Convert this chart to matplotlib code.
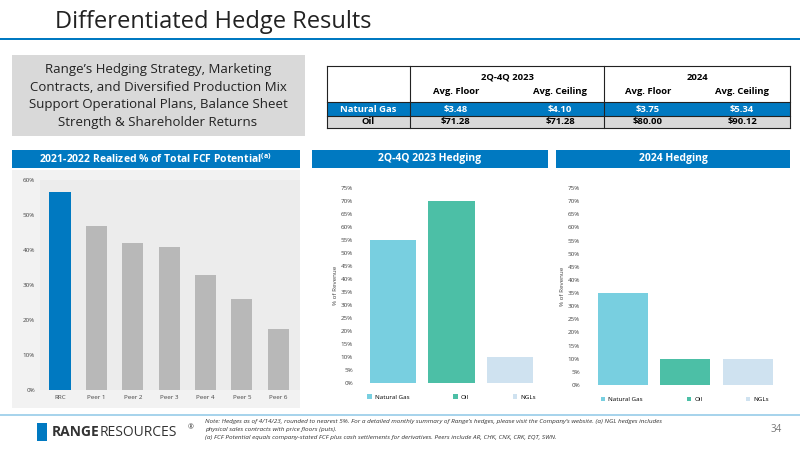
import matplotlib
matplotlib.use("Agg")
import matplotlib.pyplot as plt
from matplotlib.patches import Rectangle
import numpy as np

plt.rcParams['font.family'] = ['Open Sans', 'DejaVu Sans']

peers = ["RRC", "Peer 1", "Peer 2", "Peer 3", "Peer 4", "Peer 5", "Peer 6"]
fcf_pct = [56.5, 47, 42, 41, 33, 26, 17.5]
commodities = ["Natural Gas", "Oil", "NGLs"]
hedge_2023 = [55, 70, 10]
hedge_2024 = [35, 10, 10]
tbl_cols = ["Avg. Floor", "Avg. Ceiling", "Avg. Floor", "Avg. Ceiling"]
tbl_gas = ["$3.48", "$4.10", "$3.75", "$5.34"]
tbl_oil = ["$71.28", "$71.28", "$80.00", "$90.12"]

W, H = 800, 450
fig = plt.figure(figsize=(8, 4.5), dpi=100)
def fx(px): return px / W
def fy(py): return 1 - py / H
def rect(x0, y0, x1, y1, **kw):
    fig.add_artist(Rectangle((fx(x0), fy(y1)), fx(x1) - fx(x0), fy(y0) - fy(y1),
                             transform=fig.transFigure, zorder=-5, **kw))
def txt(x, y, s, **kw):
    fig.text(fx(x), fy(y), s, **kw)

BLUE = "#0079c1"
# Title
txt(55, 22, "Differentiated Hedge Results", fontsize=17, color="#222222", va="center")
rect(0, 38, 800, 40, color=BLUE, lw=0)

# Left grey box
rect(12, 55, 305, 136, color="#d9d9d9", lw=0)
txt(158, 96, "Range’s Hedging Strategy, Marketing\nContracts, and Diversified Production Mix\nSupport Operational Plans, Balance Sheet\nStrength & Shareholder Returns",
    fontsize=9.5, ha="center", va="center", linespacing=1.45, color="#222222")

# Table
rect(327, 102, 790, 116, color=BLUE, lw=0)
rect(327, 116, 790, 128, color="#d9d9d9", lw=0)
for a in [66, 102, 116, 128]:
    fig.add_artist(plt.Line2D([fx(327), fx(790)], [fy(a), fy(a)], transform=fig.transFigure, color="#222222", lw=0.8))
for x in [327, 410, 604, 790]:
    fig.add_artist(plt.Line2D([fx(x), fx(x)], [fy(66), fy(128)], transform=fig.transFigure, color="#222222", lw=0.8))
txt(507, 77, "2Q-4Q 2023", fontsize=6.8, ha="center", va="center", weight="bold")
txt(697, 77, "2024", fontsize=6.8, ha="center", va="center", weight="bold")
cx = [456, 560, 648, 742]
for c, lab, g, o in zip(cx, tbl_cols, tbl_gas, tbl_oil):
    txt(c, 91, lab, fontsize=6.8, ha="center", va="center", weight="bold")
    txt(c, 109, g, fontsize=6.8, ha="center", va="center", weight="bold", color="white")
    txt(c, 122, o, fontsize=6.8, ha="center", va="center", weight="bold")
txt(368, 109, "Natural Gas", fontsize=6.8, ha="center", va="center", weight="bold", color="white")
txt(368, 122, "Oil", fontsize=6.8, ha="center", va="center", weight="bold")

# Chart headers
for (x0, x1, s) in [(12, 300, r"2021-2022 Realized % of Total FCF Potential$^{\mathregular{(a)}}$"),
                    (312, 548, "2Q-4Q 2023 Hedging"), (556, 790, "2024 Hedging")]:
    rect(x0, 150, x1, 168, color=BLUE, lw=0)
    txt((x0 + x1) / 2, 159, s, fontsize=7.5, ha="center", va="center", color="white", weight="bold")

# Chart 1
rect(12, 170, 300, 408, color="#f2f2f2", lw=0)
ax1 = fig.add_axes([fx(40), fy(390), fx(300) - fx(40), fy(180) - fy(390)])
ax1.set_facecolor("#ececec")
ax1.bar(peers, fcf_pct, width=0.58, color=[BLUE] + ["#b8b8b8"] * 6)
ax1.set_ylim(0, 60)
ax1.set_yticks(range(0, 61, 10))
ax1.set_yticklabels([f"{v}%" for v in range(0, 61, 10)])
ax1.tick_params(labelsize=4.5, length=0, colors="#444444")
for s in ax1.spines.values(): s.set_visible(False)
ax1.set_xlim(-0.55, 6.6)

colors = ["#78cfe0", "#4cbfa6", "#cfe2f0"]
def hedge(ax, vals):
    x = np.arange(3)
    bars = ax.bar(x, vals, width=0.8, color=colors)
    ax.set_ylim(0, 75)
    ax.set_yticks(range(0, 76, 5))
    ax.set_yticklabels([f"{v}%" for v in range(0, 76, 5)])
    ax.set_xticks([])
    ax.set_xlim(-0.6, 2.6)
    ax.tick_params(labelsize=4.5, length=0, colors="#444444")
    ax.set_ylabel("% of Revenue", fontsize=4.5, color="#444444", labelpad=2)
    for s in ax.spines.values(): s.set_visible(False)
    ax.legend(bars, commodities, loc="upper center", bbox_to_anchor=(0.5, -0.03), ncol=3,
              fontsize=4.5, frameon=False, handlelength=0.7, handleheight=0.7,
              columnspacing=7, handletextpad=0.5)

ax2 = fig.add_axes([fx(358), fy(383), fx(545) - fx(358), fy(188) - fy(383)])
hedge(ax2, hedge_2023)
ax3 = fig.add_axes([fx(585), fy(385), fx(785) - fx(585), fy(188) - fy(385)])
hedge(ax3, hedge_2024)

# Footer
rect(0, 414, 800, 416, color="#a8d4ec", lw=0)
rect(37, 423, 47, 441, color=BLUE, lw=0)
txt(52, 432, "RANGE", fontsize=10, weight="bold", color="#333333", va="center")
txt(100, 432, "RESOURCES", fontsize=10, color="#333333", va="center")
txt(188, 428, "®", fontsize=5, color="#333333", va="center")
txt(205, 421, "Note: Hedges as of 4/14/23, rounded to nearest 5%. For a detailed monthly summary of Range’s hedges, please visit the Company’s website. (a) NGL hedges includes",
    fontsize=4.6, style="italic", va="center", color="#333333")
txt(205, 429, "physical sales contracts with price floors (puts).", fontsize=4.6, style="italic", va="center", color="#333333")
txt(205, 438, "(a) FCF Potential equals company-stated FCF plus cash settlements for derivatives. Peers include AR, CHK, CNX, CRK, EQT, SWN.",
    fontsize=4.6, style="italic", va="center", color="#333333")
txt(782, 430, "34", fontsize=7, color="#777777", ha="right", va="center")

fig.savefig("out.png", dpi=100)
